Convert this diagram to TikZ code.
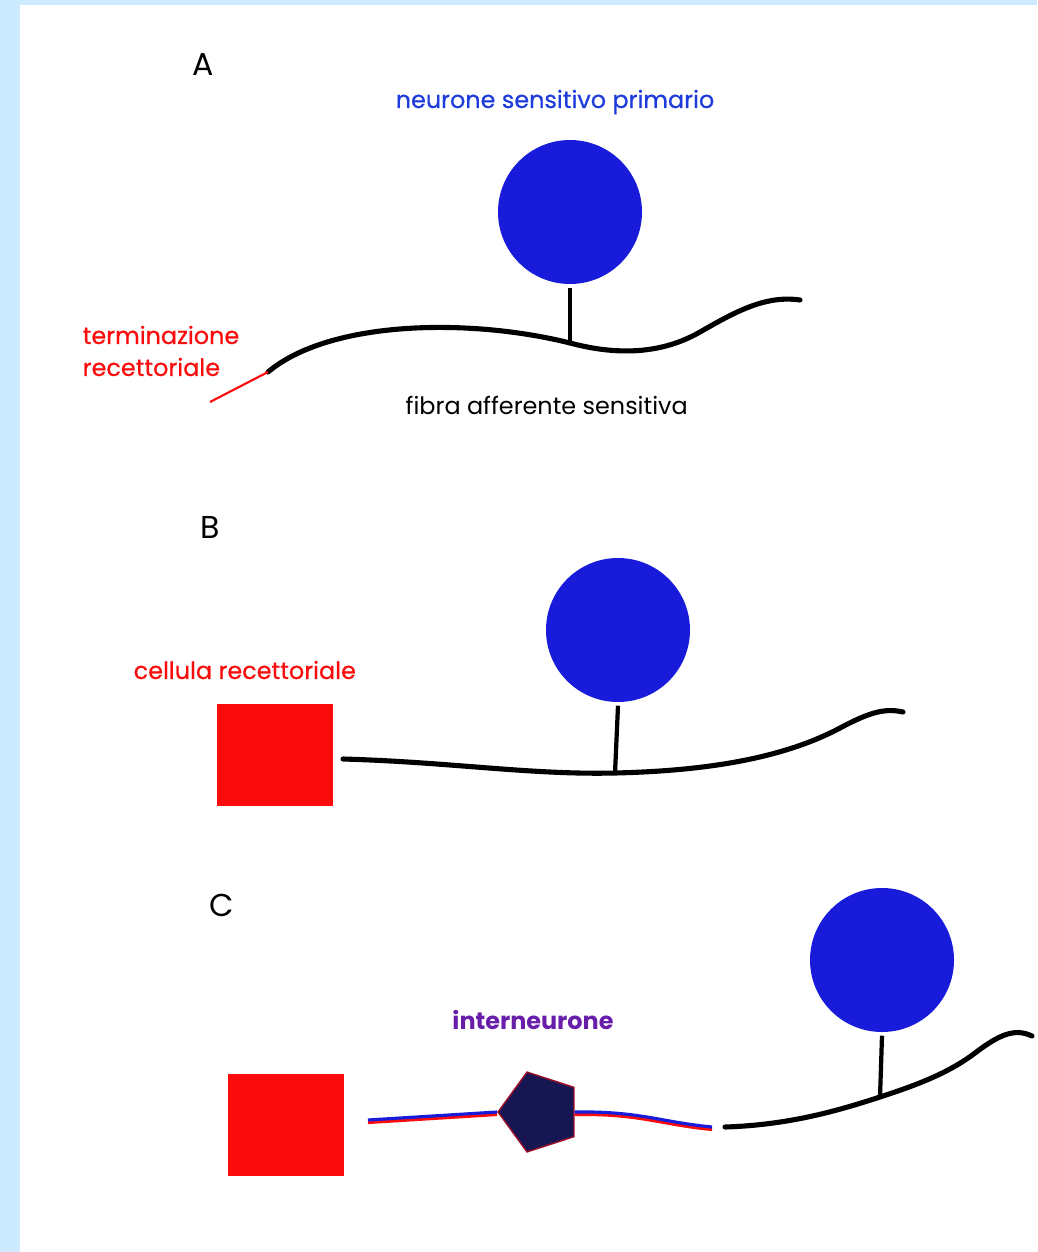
\documentclass[tikz,border=0pt]{standalone}
\usepackage{fontspec}
\setmainfont{Poppins}
\newfontfamily\medfont[FakeBold=0.5]{Poppins}
\usetikzlibrary{shapes.geometric}
\definecolor{bgblue}{RGB}{204,235,255}
\definecolor{somablue}{RGB}{24,28,218}
\definecolor{txtblue}{RGB}{30,60,220}
\definecolor{cellred}{RGB}{250,12,12}
\definecolor{navy}{RGB}{22,22,82}
\definecolor{interpurple}{RGB}{105,30,170}

\begin{document}
\begin{tikzpicture}[x=0.1mm, y=-0.1mm,
  soma/.style={circle, fill=somablue, minimum size=14.4mm, inner sep=0pt},
  cell/.style={rectangle, fill=cellred, minimum width=11.6mm, minimum height=10.2mm, inner sep=0pt},
  fiber/.style={line width=1.45pt, line cap=round},
  stem/.style={line width=1.2pt},
  lbl/.style={font=\fontsize{6.8}{9.1}\selectfont, inner sep=0pt},
  mlbl/.style={font=\medfont\fontsize{6.8}{9.1}\selectfont, inner sep=0pt},
  panel/.style={font=\fontsize{9}{10}\selectfont, inner sep=0pt}]
  % frame
  \fill[bgblue] (0,0) rectangle (1037,1252);
  \fill[white] (20,5) rectangle (1037,1252);
  \useasboundingbox (0,0) rectangle (1037,1252);

  % A
  \node[panel] (labA) at (203,65) {A};
  \node[soma] (somaA) at (570,212) {};
  \node[mlbl, text=txtblue] (nameA) at (555,102) {neurone sensitivo primario};
  \coordinate (tipA) at (210,402);
  \coordinate (fA0) at (268,372);
  \coordinate (jA) at (570,343);
  \draw[fiber] (fA0) .. controls (330,320) and (470,318) .. (jA)
    .. controls (615,355) and (660,355) .. (700,332)
    .. controls (735,312) and (765,295) .. (800,300);
  \draw[stem] ([yshift=-0.3mm]somaA.south) -- (jA);
  \draw[cellred, line width=0.6pt] (tipA) -- (fA0);
  \node[mlbl, text=cellred, anchor=west, align=left] (termA) at (82,351) {terminazione\\recettoriale};
  \node[lbl, anchor=west] (fibA) at (405,405) {fibra afferente sensitiva};

  % B
  \node[panel] (labB) at (210,527) {B};
  \node[soma] (somaB) at (618,630) {};
  \node[cell] (cellB) at (275,755) {};
  \node[mlbl, text=cellred, anchor=west] (nameB) at (133,670) {cellula recettoriale};
  \coordinate (fB0) at (343,759);
  \coordinate (jB) at (615,773);
  \draw[fiber] (fB0) .. controls (450,762) and (530,775) .. (jB)
    .. controls (700,771) and (780,760) .. (840,728)
    .. controls (870,712) and (885,708) .. (903,712);
  \draw[stem] ([yshift=-0.3mm]somaB.south) -- (jB);

  % C
  \node[panel] (labC) at (222,905) {C};
  \node[soma] (somaC) at (882,960) {};
  \node[cell] (cellC) at (286,1125) {};
  \node[regular polygon, regular polygon sides=5, shape border rotate=90,
        fill=navy, draw=cellred!60!navy, line width=0.4pt, minimum size=8.4mm, inner sep=0pt] (inter) at (540,1112) {};
  \node[lbl, text=interpurple, font=\fontsize{6.8}{9}\selectfont\bfseries] (nameC) at (533,1020) {interneurone};
  \coordinate (iC0) at (368,1120);
  \coordinate (iC1) at (712,1127);
  \draw[cellred, line width=0.9pt] ([yshift=-0.25mm]iC0) -- ([yshift=-0.25mm]inter.west);
  \draw[somablue, line width=0.9pt] (iC0) -- (inter.west);
  \draw[cellred, line width=0.9pt] ([yshift=-0.25mm]inter.east) .. controls ([yshift=-0.25mm]640,1111) and ([yshift=-0.25mm]660,1122) .. ([yshift=-0.25mm]iC1);
  \draw[somablue, line width=0.9pt] (inter.east) .. controls (640,1111) and (660,1122) .. (iC1);
  \coordinate (fC0) at (725,1127);
  \coordinate (jC) at (880,1097);
  \draw[fiber] (fC0) .. controls (790,1125) and (840,1110) .. (jC)
    .. controls (920,1084) and (950,1072) .. (975,1053)
    .. controls (1000,1034) and (1015,1028) .. (1032,1036);
  \draw[stem] ([yshift=-0.3mm]somaC.south) -- (jC);
\end{tikzpicture}
\end{document}
